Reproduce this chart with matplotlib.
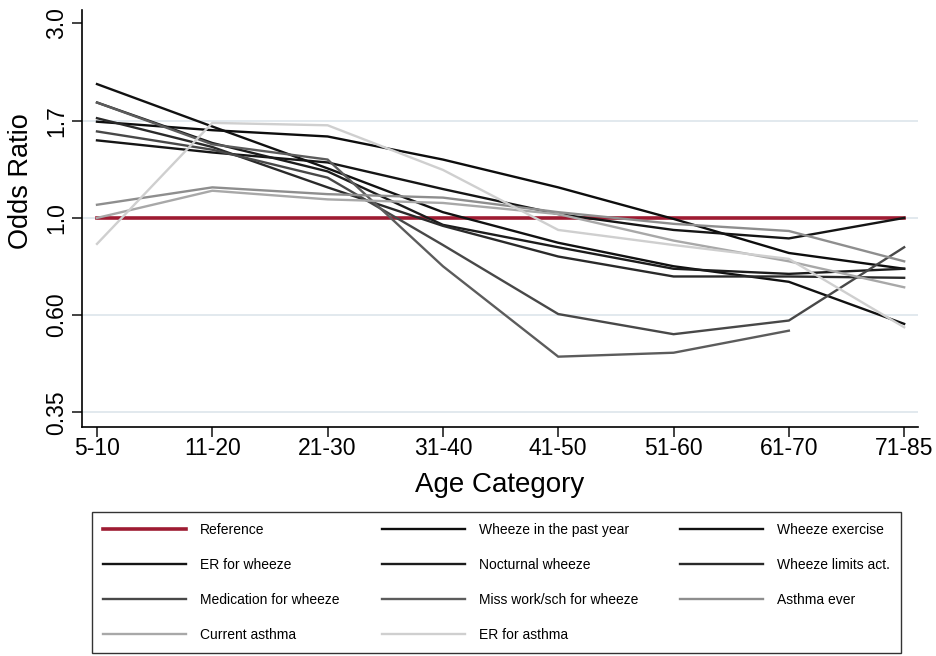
import numpy as np
import matplotlib
matplotlib.use("Agg")
import matplotlib.pyplot as plt

plt.rcParams["font.family"] = ["Liberation Sans", "DejaVu Sans"]

ages = ["5-10", "11-20", "21-30", "31-40", "41-50", "51-60", "61-70", "71-85"]

reference = [1.0, 1.0, 1.0, 1.0, 1.0, 1.0, 1.0, 1.0]
wheeze_past_year = [1.64, 1.57, 1.52, 1.35, 1.17, 0.995, 0.835, 0.77]
wheeze_exercise = [1.99, 1.60, 1.29, 1.03, 0.88, 0.78, 0.72, 0.58]
er_for_wheeze = [1.49, 1.40, 1.33, 1.16, 1.02, 0.94, 0.90, 1.00]
nocturnal_wheeze = [1.81, 1.47, 1.27, 0.965, 0.86, 0.77, 0.75, 0.77]
wheeze_limits = [1.67, 1.44, 1.17, 0.96, 0.82, 0.74, 0.74, 0.735]
medication = [1.56, 1.42, 1.23, 0.87, 0.61, 0.55, 0.59, 0.86]
miss_work = [1.81, 1.46, 1.35, 0.78, 0.49, 0.50, 0.56, np.nan]
asthma_ever = [1.07, 1.17, 1.13, 1.11, 1.03, 0.97, 0.935, 0.80]
current_asthma = [1.00, 1.15, 1.10, 1.08, 1.02, 0.89, 0.80, 0.70]
er_for_asthma = [0.875, 1.63, 1.61, 1.28, 0.94, 0.87, 0.81, 0.57]

# tick positions on the log axis and the labels printed beside them
ytick_pos = [np.exp(-1.0), np.exp(-0.5), 1.0, np.exp(0.5), np.exp(1.0)]
ytick_labels = ["0.35", "0.60", "1.0", "1.7", "3.0"]
grid_pos = ytick_pos[:4]

series = [
    ("Reference", reference, "#9e1b32", 2.6),
    ("Wheeze in the past year", wheeze_past_year, "#0d0d0d", 1.7),
    ("Wheeze exercise", wheeze_exercise, "#111111", 1.7),
    ("ER for wheeze", er_for_wheeze, "#151515", 1.7),
    ("Nocturnal wheeze", nocturnal_wheeze, "#1c1c1c", 1.7),
    ("Wheeze limits act.", wheeze_limits, "#2a2a2a", 1.7),
    ("Medication for wheeze", medication, "#484848", 1.7),
    ("Miss work/sch for wheeze", miss_work, "#5c5c5c", 1.7),
    ("Asthma ever", asthma_ever, "#8e8e8e", 1.7),
    ("Current asthma", current_asthma, "#a8a8a8", 1.7),
    ("ER for asthma", er_for_asthma, "#cfcfcf", 1.7),
]

fig = plt.figure(figsize=(9.36, 6.56), dpi=100)
ax = fig.add_axes([82 / 936, 1 - 427 / 656, (918 - 82) / 936, (427 - 10) / 656])

x = np.arange(len(ages))
for yv in grid_pos:
    ax.axhline(yv, color="#dfe7ed", lw=1.3, zorder=0)

handles = {}
for label, vals, color, lw in series:
    (h,) = ax.plot(x, vals, color=color, lw=lw, label=label, solid_joinstyle="miter")
    handles[label] = h

ax.set_yscale("log")
ax.set_ylim(np.exp(-1.075), np.exp(1.069))
ax.set_xlim(-0.13, 7.12)
ax.set_yticks(ytick_pos)
ax.set_yticklabels(ytick_labels, rotation=90, va="center")
ax.yaxis.set_minor_locator(matplotlib.ticker.NullLocator())
ax.set_xticks(x)
ax.set_xticklabels(ages)
ax.tick_params(axis="both", labelsize=16.5, length=7, width=1.2, direction="out", color="#222222")
ax.tick_params(axis="x", pad=0)
ax.tick_params(axis="y", pad=3)

for side in ("top", "right"):
    ax.spines[side].set_visible(False)
for side in ("left", "bottom"):
    ax.spines[side].set_linewidth(1.2)

ax.set_xlabel("Age Category", fontsize=20, labelpad=9)
ax.set_ylabel("Odds Ratio", fontsize=19.5)
ax.yaxis.set_label_coords(-0.058, 0.59)

# legend filled row by row like the original (matplotlib fills by column)
order = [
    "Reference", "ER for wheeze", "Medication for wheeze", "Current asthma",
    "Wheeze in the past year", "Nocturnal wheeze", "Miss work/sch for wheeze", "ER for asthma",
    "Wheeze exercise", "Wheeze limits act.", "Asthma ever",
]
leg = fig.legend(
    [handles[k] for k in order], order,
    ncol=3, loc="upper left", bbox_to_anchor=(92 / 936, 1 - 512 / 656),
    fontsize=10, frameon=True, fancybox=False, edgecolor="black",
    handlelength=6.0, handletextpad=1.0, columnspacing=3.0,
    labelspacing=1.5, borderpad=0.8, borderaxespad=0,
)
leg.get_frame().set_linewidth(1.0)

fig.savefig("out.png", dpi=100)
